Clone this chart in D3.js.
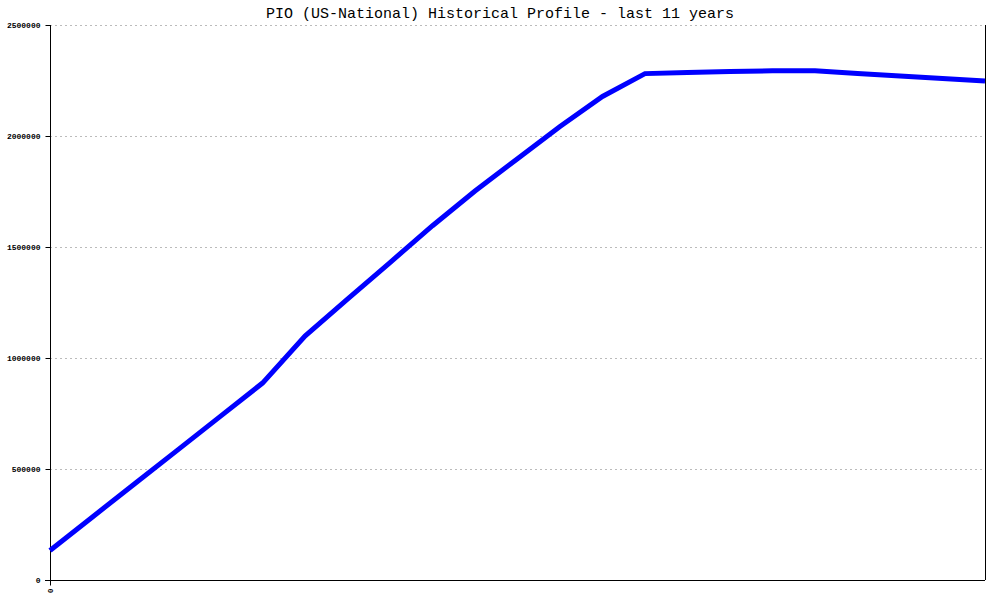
<!DOCTYPE html>
<html><head><meta charset="utf-8">
<script src="https://cdn.jsdelivr.net/npm/d3@7"></script>
<style>body{margin:0;background:#fff}</style>
</head><body>
<svg id="c" width="1000" height="600"></svg>
<script>
const title = "PIO (US-National) Historical Profile - last 11 years";
const periods = d3.range(23);
const values = [133000, 284000, 435000, 585000, 736000, 887000, 1099000, 1265000, 1430000, 1596000, 1752000, 1898000, 2043000, 2178000, 2281000, 2286000, 2290000, 2294000, 2294000, 2281000, 2270000, 2259000, 2248000];
const yTicks = [0, 500000, 1000000, 1500000, 2000000, 2500000];
const xTickLabels = ["0"];

const svg = d3.select("#c");
const L = 50, R = 985, T = 25, B = 580;
const x = d3.scaleLinear().domain([0, periods.length - 1]).range([L, R]);
const y = d3.scaleLinear().domain([0, 2500000]).range([B, T]);

svg.append("text").attr("x", 500).attr("y", 18).attr("text-anchor", "middle")
  .attr("font-family", "Liberation Mono, DejaVu Sans Mono, monospace").attr("font-size", 15)
  .text(title);

// grid
svg.append("g").selectAll("line").data(yTicks.filter(d => d > 0)).join("line")
  .attr("x1", L).attr("x2", R).attr("y1", d => Math.round(y(d)) + 0.5).attr("y2", d => Math.round(y(d)) + 0.5)
  .attr("stroke", "#bbb").attr("stroke-dasharray", "2,3");

// y axis
const ya = svg.append("g").attr("transform", `translate(${L + 0.5},0)`)
  .call(d3.axisLeft(y).tickValues(yTicks).tickSize(5).tickFormat(d3.format("d")));
ya.select(".domain").remove();
ya.selectAll("line").attr("stroke", "#000");
ya.selectAll("text").attr("font-family", "Liberation Mono, DejaVu Sans Mono, monospace")
  .attr("font-size", 8).attr("font-weight", "bold").attr("x", -10).attr("fill", "#000");

// x axis
const xa = svg.append("g").attr("transform", `translate(0,${B + 0.5})`)
  .call(d3.axisBottom(x).tickValues([0]).tickSize(5).tickFormat((d, i) => xTickLabels[i]));
xa.select(".domain").remove();
xa.selectAll("text").attr("font-family", "Liberation Mono, DejaVu Sans Mono, monospace")
  .attr("font-size", 8).attr("font-weight", "bold")
  .attr("transform", "rotate(-90)").attr("text-anchor", "end").attr("dy", "0.35em").attr("x", -8).attr("y", 0);

// frame lines
svg.append("line").attr("x1", L + 0.5).attr("x2", L + 0.5).attr("y1", T).attr("y2", B).attr("stroke", "#000");
svg.append("line").attr("x1", L - 5).attr("x2", R).attr("y1", B + 0.5).attr("y2", B + 0.5).attr("stroke", "#000");
svg.append("line").attr("x1", R + 0.5).attr("x2", R + 0.5).attr("y1", T).attr("y2", B).attr("stroke", "#000");

// data line
svg.append("path").datum(values)
  .attr("fill", "none").attr("stroke", "#0000ff").attr("stroke-width", 5)
  .attr("d", d3.line().x((d, i) => x(periods[i])).y(d => y(d)));
</script>
</body></html>
